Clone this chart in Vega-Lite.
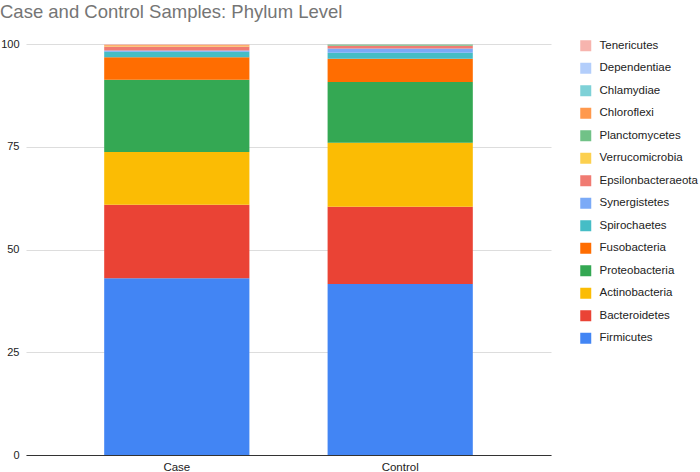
{
  "$schema": "https://vega.github.io/schema/vega-lite/v6.json",
  "autosize": {"type": "none"},
  "width": 525,
  "height": 411,
  "padding": {"left": 26, "top": 44, "right": 149, "bottom": 17},
  "background": "white",
  "title": {
    "text": "Case and Control Samples: Phylum Level",
    "anchor": "start",
    "frame": "group",
    "dx": -26,
    "offset": 17,
    "font": "Liberation Sans",
    "fontSize": 18.5,
    "fontWeight": "normal",
    "color": "#757575"
  },
  "data": {
    "values": [
      {"sample": "Case", "phylum": "Firmicutes", "value": 43.0},
      {"sample": "Case", "phylum": "Bacteroidetes", "value": 17.9},
      {"sample": "Case", "phylum": "Actinobacteria", "value": 12.8},
      {"sample": "Case", "phylum": "Proteobacteria", "value": 17.6},
      {"sample": "Case", "phylum": "Fusobacteria", "value": 5.5},
      {"sample": "Case", "phylum": "Spirochaetes", "value": 1.3},
      {"sample": "Case", "phylum": "Synergistetes", "value": 0.3},
      {"sample": "Case", "phylum": "Epsilonbacteraeota", "value": 1.0},
      {"sample": "Case", "phylum": "Verrucomicrobia", "value": 0.15},
      {"sample": "Case", "phylum": "Planctomycetes", "value": 0.05},
      {"sample": "Case", "phylum": "Chloroflexi", "value": 0.2},
      {"sample": "Case", "phylum": "Chlamydiae", "value": 0.03},
      {"sample": "Case", "phylum": "Dependentiae", "value": 0.02},
      {"sample": "Case", "phylum": "Tenericutes", "value": 0.15},
      {"sample": "Control", "phylum": "Firmicutes", "value": 41.6},
      {"sample": "Control", "phylum": "Bacteroidetes", "value": 18.8},
      {"sample": "Control", "phylum": "Actinobacteria", "value": 15.6},
      {"sample": "Control", "phylum": "Proteobacteria", "value": 14.75},
      {"sample": "Control", "phylum": "Fusobacteria", "value": 5.65},
      {"sample": "Control", "phylum": "Spirochaetes", "value": 1.5},
      {"sample": "Control", "phylum": "Synergistetes", "value": 1.0},
      {"sample": "Control", "phylum": "Epsilonbacteraeota", "value": 0.65},
      {"sample": "Control", "phylum": "Verrucomicrobia", "value": 0.05},
      {"sample": "Control", "phylum": "Planctomycetes", "value": 0.25},
      {"sample": "Control", "phylum": "Chloroflexi", "value": 0.05},
      {"sample": "Control", "phylum": "Chlamydiae", "value": 0.03},
      {"sample": "Control", "phylum": "Dependentiae", "value": 0.02},
      {"sample": "Control", "phylum": "Tenericutes", "value": 0.05}
    ]
  },
  "transform": [
    {"calculate": "indexof(['Firmicutes','Bacteroidetes','Actinobacteria','Proteobacteria','Fusobacteria','Spirochaetes','Synergistetes','Epsilonbacteraeota','Verrucomicrobia','Planctomycetes','Chloroflexi','Chlamydiae','Dependentiae','Tenericutes'], datum.phylum)", "as": "stackRank"}
  ],
  "mark": {"type": "bar"},
  "encoding": {
    "x": {
      "field": "sample",
      "type": "nominal",
      "scale": {"paddingInner": 0.35, "paddingOuter": 0.35},
      "axis": {
        "title": null,
        "labelAngle": 0,
        "labelFont": "Liberation Sans",
        "labelFontSize": 11.5,
        "labelColor": "#222222",
        "ticks": false,
        "domain": true,
        "domainColor": "#333333",
        "domainWidth": 1,
        "labelPadding": 6
      }
    },
    "y": {
      "field": "value",
      "type": "quantitative",
      "stack": "zero",
      "scale": {"domain": [0, 100], "nice": false},
      "axis": {
        "title": null,
        "values": [0, 25, 50, 75, 100],
        "labelFont": "Liberation Sans",
        "labelFontSize": 11,
        "labelColor": "#222222",
        "ticks": false,
        "domain": false,
        "labelPadding": 7,
        "gridColor": "#dddddd",
        "gridWidth": 1
      }
    },
    "order": {"field": "stackRank", "type": "quantitative", "sort": "ascending"},
    "color": {
      "field": "phylum",
      "type": "nominal",
      "scale": {
        "domain": ["Firmicutes", "Bacteroidetes", "Actinobacteria", "Proteobacteria", "Fusobacteria", "Spirochaetes", "Synergistetes", "Epsilonbacteraeota", "Verrucomicrobia", "Planctomycetes", "Chloroflexi", "Chlamydiae", "Dependentiae", "Tenericutes"],
        "range": ["#4285F4", "#EA4335", "#FBBC04", "#34A853", "#FF6D01", "#46BDC6", "#7BAAF7", "#F07B72", "#FCD04F", "#71C287", "#FF994D", "#7ED1D7", "#B3CEFB", "#F7B4AE"]
      },
      "legend": {
        "title": null,
        "orient": "none",
        "legendX": 554,
        "legendY": -4,
        "values": ["Tenericutes", "Dependentiae", "Chlamydiae", "Chloroflexi", "Planctomycetes", "Verrucomicrobia", "Epsilonbacteraeota", "Synergistetes", "Spirochaetes", "Fusobacteria", "Proteobacteria", "Actinobacteria", "Bacteroidetes", "Firmicutes"],
        "symbolType": "square",
        "symbolSize": 121,
        "symbolStrokeWidth": 0,
        "labelFont": "Liberation Sans",
        "labelFontSize": 11.5,
        "labelColor": "#222222",
        "labelOffset": 8,
        "rowPadding": 9.5,
        "labelLimit": 200
      }
    }
  },
  "config": {
    "view": {"stroke": null}
  }
}
